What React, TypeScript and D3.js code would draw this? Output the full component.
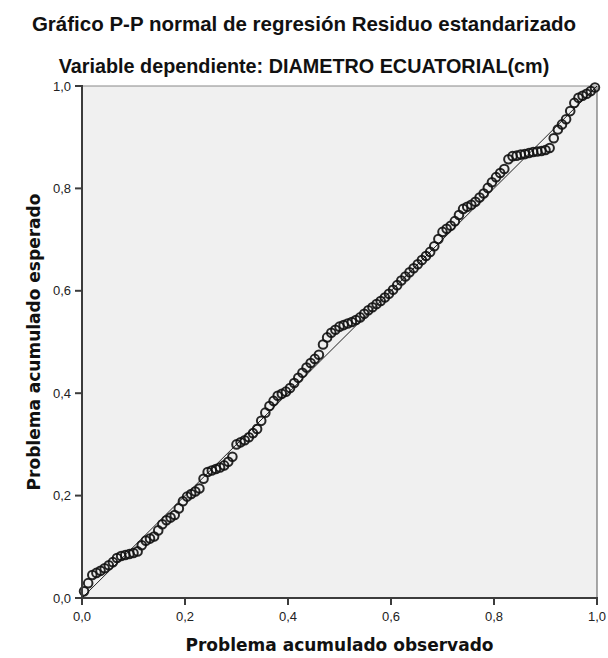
import React from "react";
import * as d3 from "d3";

const title = "Gráfico P-P normal de regresión Residuo estandarizado";
const subtitle = "Variable dependiente: DIAMETRO ECUATORIAL(cm)";
const xLabel = "Problema acumulado observado";
const yLabel = "Problema acumulado esperado";
const tickValues = [0, 0.2, 0.4, 0.6, 0.8, 1.0];
const tickLabels = ["0,0", "0,2", "0,4", "0,6", "0,8", "1,0"];

const observed = [
  0.004, 0.012, 0.020, 0.028, 0.036, 0.044, 0.052, 0.060, 0.068, 0.076,
  0.084, 0.092, 0.100, 0.108, 0.116, 0.124, 0.132, 0.140, 0.148, 0.156,
  0.164, 0.172, 0.180, 0.188, 0.196, 0.204, 0.212, 0.220, 0.228, 0.236,
  0.244, 0.252, 0.260, 0.268, 0.276, 0.284, 0.292, 0.300, 0.308, 0.316,
  0.324, 0.332, 0.340, 0.348, 0.356, 0.364, 0.372, 0.380, 0.388, 0.396,
  0.404, 0.412, 0.420, 0.428, 0.436, 0.444, 0.452, 0.460, 0.468, 0.476,
  0.484, 0.492, 0.500, 0.508, 0.516, 0.524, 0.532, 0.540, 0.548, 0.556,
  0.564, 0.572, 0.580, 0.588, 0.596, 0.604, 0.612, 0.620, 0.628, 0.636,
  0.644, 0.652, 0.660, 0.668, 0.676, 0.684, 0.692, 0.700, 0.708, 0.716,
  0.724, 0.732, 0.740, 0.748, 0.756, 0.764, 0.772, 0.780, 0.788, 0.796,
  0.804, 0.812, 0.820, 0.828, 0.836, 0.844, 0.852, 0.860, 0.868, 0.876,
  0.884, 0.892, 0.900, 0.908, 0.916, 0.924, 0.932, 0.940, 0.948, 0.956,
  0.964, 0.972, 0.980, 0.988, 0.996,
];

const expected = [
  0.013, 0.029, 0.045, 0.049, 0.053, 0.058, 0.064, 0.070, 0.078, 0.082,
  0.084, 0.086, 0.088, 0.091, 0.103, 0.112, 0.116, 0.120, 0.132, 0.144,
  0.152, 0.157, 0.162, 0.175, 0.189, 0.198, 0.203, 0.208, 0.214, 0.233,
  0.246, 0.249, 0.252, 0.255, 0.259, 0.266, 0.276, 0.300, 0.304, 0.308,
  0.314, 0.322, 0.330, 0.346, 0.362, 0.375, 0.385, 0.395, 0.399, 0.403,
  0.410, 0.420, 0.430, 0.440, 0.450, 0.459, 0.467, 0.475, 0.495, 0.509,
  0.518, 0.524, 0.530, 0.533, 0.536, 0.539, 0.543, 0.548, 0.555, 0.562,
  0.568, 0.574, 0.580, 0.587, 0.594, 0.602, 0.611, 0.620, 0.628, 0.636,
  0.644, 0.652, 0.660, 0.668, 0.676, 0.687, 0.701, 0.715, 0.721, 0.727,
  0.736, 0.748, 0.760, 0.764, 0.768, 0.774, 0.782, 0.790, 0.801, 0.812,
  0.822, 0.830, 0.838, 0.857, 0.863, 0.864, 0.866, 0.867, 0.869, 0.871,
  0.872, 0.873, 0.875, 0.879, 0.898, 0.915, 0.925, 0.935, 0.951, 0.967,
  0.977, 0.981, 0.985, 0.990, 0.997,
];

const refLine = [0, 1];

export default function App() {
  const W = 608, H = 658;
  const left = 82, right = 597, top = 86, bottom = 598;
  const x = d3.scaleLinear().domain([0, 1]).range([left, right]);
  const y = d3.scaleLinear().domain([0, 1]).range([bottom, top]);
  const pts = observed.map((o, i) => ({ o, e: expected[i] }));
  const tickFont = "'Liberation Sans', Arial, sans-serif";
  const axisFont = "'DejaVu Sans', Verdana, sans-serif";

  return (
    <svg width={W} height={H} style={{ position: "absolute", left: 0, top: 0, background: "#fff" }}>
      <text x={304} y={31} textAnchor="middle" fontFamily={tickFont} fontWeight="bold" fontSize={20.5} fill="#111">{title}</text>
      <text x={304} y={73} textAnchor="middle" fontFamily={tickFont} fontWeight="bold" fontSize={19.8} fill="#111">{subtitle}</text>

      <rect x={left} y={top} width={right - left} height={bottom - top} fill="#f0f0f0" />
      <line x1={left} y1={top} x2={right} y2={top} stroke="#888" strokeWidth={1} />
      <line x1={right} y1={top} x2={right} y2={bottom} stroke="#555" strokeWidth={1} />

      <line x1={x(refLine[0])} y1={y(refLine[0])} x2={x(refLine[1])} y2={y(refLine[1])} stroke="#222" strokeWidth={1} />

      {pts.map((p, i) => (
        <circle key={i} cx={x(p.o)} cy={y(p.e)} r={4.3} fill="none" stroke="#111" strokeOpacity={0.9} strokeWidth={2} />
      ))}

      <line x1={left} y1={top - 1} x2={left} y2={bottom + 1} stroke="#3c3c3c" strokeWidth={2} />
      <line x1={left - 1} y1={bottom} x2={right + 1} y2={bottom} stroke="#3c3c3c" strokeWidth={2} />

      {tickValues.map((t, i) => (
        <g key={"x" + i}>
          <line x1={x(t)} y1={bottom} x2={x(t)} y2={bottom + 7} stroke="#3c3c3c" strokeWidth={2} />
          <text x={x(t)} y={621} textAnchor="middle" fontFamily={tickFont} fontSize={13} fill="#222">{tickLabels[i]}</text>
        </g>
      ))}
      {tickValues.map((t, i) => (
        <g key={"y" + i}>
          <line x1={left - 7} y1={y(t)} x2={left} y2={y(t)} stroke="#3c3c3c" strokeWidth={2} />
          <text x={71} y={y(t) + 4.5} textAnchor="end" fontFamily={tickFont} fontSize={13} fill="#222">{tickLabels[i]}</text>
        </g>
      ))}

      <text x={(left + right) / 2} y={651} textAnchor="middle" fontFamily={axisFont} fontWeight="bold" fontSize={17} fill="#111">{xLabel}</text>
      <text transform={`translate(40,${(top + bottom) / 2}) rotate(-90)`} textAnchor="middle" fontFamily={axisFont} fontWeight="bold" fontSize={17} fill="#111">{yLabel}</text>
    </svg>
  );
}
